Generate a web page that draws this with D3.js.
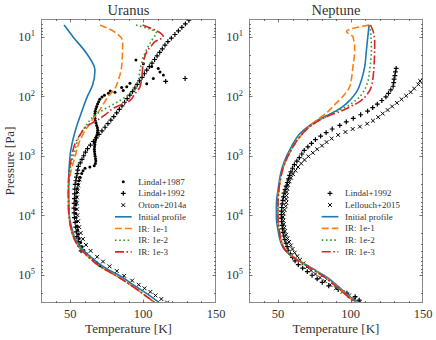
<!DOCTYPE html>
<html><head><meta charset="utf-8">
<script src="https://cdn.jsdelivr.net/npm/d3@7"></script>
<style>
body{margin:0;background:#fff}
svg{display:block}
text{font-family:"Liberation Serif","DejaVu Serif",serif;fill:#333}
</style>
</head><body>
<svg id="c" width="436" height="340"></svg>
<script>
// ---------------- DATA (temperature in K, log10 of pressure in Pa) ----------------
const xTicks = [50, 100, 150];
const yTickExps = [1, 2, 3, 4, 5];
const panelTitles = ["Uranus", "Neptune"];
const modelLabels = ["Initial profile", "IR: 1e-1", "IR: 1e-2", "IR: 1e-3"];

// Uranus models
const uraInitLogP = [0.80,1.0,1.28,1.56,1.81,2.0,2.26,2.5,2.75,3.0,3.5,4.0,4.25,4.4,4.5,4.6,4.7,4.81,4.9,5.04,5.15,5.26,5.37,5.48];
const uraInitT    = [45.8,52,61.3,67,65.4,61.8,57.9,54.5,51.7,49.9,48.9,49.4,51.5,53.5,56,59.5,64,69.5,75,85.5,92,99,105.5,111.6];
const uraIR1LogP = [0.80,0.94,1.08,1.3,1.5,1.73,1.87,2.0,2.22,2.45,2.74,3.02,3.33,3.58,3.83,4.0,4.25,4.4,4.5,4.6,4.7,4.81,4.9,5.04,5.15,5.26,5.37,5.48];
const uraIR1T    = [70.5,81.9,86,85.8,85.3,83,80.7,76.2,70.5,63.6,56.7,53.3,49.9,48.9,48.9,49.2,50.8,52.8,55,58.3,62.5,67.5,73,83,90,96.5,102.5,108.5];
const uraIR2LogP = [0.80,0.94,1.0,1.11,1.34,1.56,1.75,1.90,2.0,2.07,2.17,2.26,2.35,2.49,2.65,2.91,3.25,3.58,3.83,4.0,4.25,4.4,4.5,4.6,4.7,4.81,4.9,5.04,5.15,5.26,5.37,5.48];
const uraIR2T    = [95.1,109.3,107.5,104.7,100.2,97.9,96.5,93.3,88.5,84.2,77,70.5,65.5,61,56.7,53.3,49.9,48.9,48.9,49.2,50.8,52.8,55,58.3,62.5,67.5,73,83,90,96.5,102.5,108.5];
const uraIR3LogP = [0.80,1.0,1.08,1.14,1.25,1.39,1.67,1.84,1.97,2.07,2.2,2.3,2.37,2.45,2.51,2.62,2.8,3.02,3.3,3.58,3.83,4.0,4.25,4.4,4.5,4.6,4.7,4.81,4.9,5.04,5.15,5.26,5.37,5.48];
const uraIR3T    = [99.7,113.9,108.2,106,102.5,100.5,99.1,97.9,94,91,79.6,74.5,70.5,65,61,57.5,53.3,51,49.2,48.7,48.7,49.2,50.8,52.8,55,58.3,62.5,67.5,73,83,90,96.5,102.5,108.5];

// Uranus observations
const ura87LogP = [1.39,1.45,1.50,1.53,1.59,1.64,1.70,1.79,1.78,1.84,1.85,1.90,1.93,1.91,
  1.95,1.98,2.01,2.05,2.09,2.13,2.17,2.21,2.25,2.29,2.33,2.37,2.41,2.45,2.49,2.53,2.57,2.61,2.65,2.69,2.73,2.77,2.81,2.85,2.89,2.93,2.97,3.01,3.05,3.09,
  3.13,3.17,3.19,3.21,3.25,3.30,3.36,3.42,3.48,3.55,3.62,3.69,3.76,3.83,3.90,3.97,4.04,4.11,4.18,4.25,4.32,4.39,4.46,4.53,4.59,4.65,4.70,4.75,4.80,4.85];
const ura87T = [95.1,100.2,105.9,110.4,111.6,113.9,107,102.5,91,88.8,85.3,86.4,80.7,77.5,
  76.2,73.5,71.8,70.3,69.5,68.8,68.2,67.6,67.2,67.0,66.9,67.0,67.2,67.7,68.2,68.7,68.9,68.7,68.3,67.8,67.4,67.1,66.9,66.7,66.6,66.7,66.9,67.1,67.4,67.6,
  67.3,66.5,63.5,60.2,58.8,57.9,56.8,56.0,55.5,55.0,54.6,54.4,54.1,53.9,53.8,53.9,54.1,54.4,54.8,55.2,55.6,56.2,57.2,58.2,59.3,61.2,63.2,65.8,68.2,70.5];
const ura92LogP = [0.72,0.78,0.84,0.90,0.96,1.02,1.08,1.14,1.20,1.26,1.32,1.38,1.44,1.50,1.56,1.62,1.68,1.74,1.80,1.86,1.92,1.98,2.04,2.10,
  2.16,2.22,2.28,2.34,2.40,2.46,2.52,2.58,2.64,2.70,2.76,2.82,2.88,2.94,3.00,3.06,3.12,3.18,3.24,3.30,3.36,3.42,3.48,
  3.56,3.64,3.72,3.80,3.88,3.96,4.04,4.12,4.20,4.28,4.36,4.44,4.52,4.60,1.70,1.75];
const ura92T = [131.4,129.0,126.6,124.2,121.8,119.4,117.0,115.0,113.2,111.4,109.6,107.9,106.1,104.3,102.5,100.9,99.3,97.6,96.0,94.4,92.7,90.9,89.1,87.3,
  85.5,83.7,81.9,79.9,77.9,75.9,73.9,71.8,69.8,67.9,65.9,63.9,61.9,60.5,59.3,58.1,56.9,55.6,55.2,54.8,54.3,53.9,53.4,
  53.2,53.0,52.9,52.7,52.6,52.7,52.9,53.4,53.8,54.2,54.6,55.5,56.5,57.5,128.8,115.5];
const uraOrtonLogP = [3.40,3.50,3.60,3.70,3.80,3.90,4.00,4.10,4.20,4.30,4.40,4.50,4.60,4.70,4.78,4.86,4.94,5.02,5.10,5.17,5.23,5.29,5.35,5.41,5.47];
const uraOrtonT    = [56.5,55.5,55.0,54.7,54.6,54.7,55.0,55.5,56.2,57.2,58.7,60.8,64.0,68.5,72.5,77.0,82.0,87.0,92.5,97.0,101.0,105.0,108.5,112.5,116.5];

// Neptune models
const nepInitLogP = [0.80,1.22,1.50,1.73,1.93,2.07,2.19,2.30,2.38,2.49,2.63,2.85,3.08,3.25,3.58,3.80,4.03,4.25,4.54,4.70,4.87,5.04,5.27,5.49];
const nepInitT    = [112.8,111,109.8,107.5,104.1,99.4,93.7,85.7,78.8,71.9,65,59.2,54.6,52.3,50,48.9,48.9,50,53.4,60.3,71.9,83.4,94.8,105.2];
const nepIR1LogP = [0.80,0.91,1.0,1.22,1.50,1.84,2.0,2.11,2.28,2.45,2.62,2.85,3.08,3.3,3.58,3.80,4.03,4.25,4.54,4.70,4.87,5.04,5.27,5.49];
const nepIR1T    = [112.8,97.2,101.7,102.9,101.7,99.4,94.8,90.3,83.4,74.1,67.2,60.3,55.3,52.5,50.5,49.8,49.8,50.8,54,60.5,71.5,82.5,94,104.5];
const nepIR2LogP = [0.80,0.94,1.22,1.50,1.78,1.95,2.07,2.18,2.24,2.32,2.40,2.51,2.68,2.90,3.13,3.35,3.58,3.80,4.03,4.25,4.54,4.70,4.87,5.04,5.27,5.49];
const nepIR2T    = [112.8,114,114.4,113.5,111.6,108.2,103.6,96.7,91.5,85,78.5,71.9,65,59.2,54.6,52,50.6,50,50,50.8,53.8,60,71,82,93.5,104];
const nepIR3LogP = [0.80,0.94,1.11,1.50,1.84,1.98,2.09,2.18,2.26,2.32,2.40,2.51,2.68,2.90,3.13,3.35,3.58,3.80,4.03,4.25,4.54,4.70,4.87,5.04,5.27,5.49];
const nepIR3T    = [113.7,116,116.7,116.2,114.4,111,106.3,99.4,92.5,85.7,78.8,71.9,65,59.2,54.6,52,50.6,50,50,50.8,53.8,60,71,82,93.5,104];

// Neptune observations
const nep92LogP = [1.53,1.59,1.65,1.71,1.77,1.83,1.89,1.95,2.01,2.07,2.13,2.19,2.25,2.31,2.37,2.43,2.49,2.55,2.61,2.67,2.73,2.79,2.85,2.91,
  2.97,3.03,3.09,3.15,3.21,3.27,3.33,3.39,3.45,3.51,3.57,3.63,3.69,3.75,3.81,3.87,3.93,3.99,4.05,4.11,4.17,4.23,4.29,4.35,
  4.41,4.47,4.53,4.59,4.65,4.71,4.77,4.83,4.89,4.95,5.01,5.07,5.13,5.19,5.25,5.31,5.37,5.43];
const nep92T = [131.5,131.0,130.6,130.1,129.8,129.4,127.8,126.2,124.4,121.6,118.5,115.3,111.8,107.0,101.9,97.1,92.6,87.4,83.2,79.4,75.8,73.1,70.6,68.1,
  66.4,64.7,63.0,61.3,60.0,58.9,58.0,57.2,56.4,55.6,54.9,54.2,53.7,53.3,52.9,52.6,52.4,52.3,52.3,52.5,52.8,53.1,53.4,54.0,
  54.7,55.5,56.3,57.0,58.5,60.0,61.8,64.0,67.0,70.2,73.5,77.0,80.5,85.0,91.5,97.5,103.2,106.0];
const nepLelLogP = [1.68,1.74,1.80,1.87,1.93,1.99,2.05,2.11,2.17,2.23,2.29,2.35,2.41,2.46,2.51,2.55,2.60,2.65,2.71,2.77,2.83,2.89,2.95,3.01,
  3.07,3.13,3.19,3.25,3.31,3.37,3.43,3.49,3.55,3.61,3.67,3.73,3.79,3.85,3.91,3.97,4.03,4.09,4.15,4.21,4.27,4.33,4.39,4.45,
  4.51,4.57,4.63,4.69,4.75,4.81,4.87,4.93,4.99,5.05,5.11,5.17,5.23,5.29,5.35,5.41,5.47];
const nepLelT = [151.5,148.0,146.8,143.9,141.5,138.4,135.2,132.0,128.7,125.6,122.2,119.1,115.5,111.5,106.5,101.5,96.5,91.5,87.0,83.5,80.3,77.0,74.0,71.0,
  68.3,66.0,63.8,62.0,60.4,59.0,57.9,57.0,56.4,56.0,55.8,55.7,55.7,55.3,54.5,53.9,53.5,53.7,54.0,54.4,54.8,55.6,56.5,57.6,
  58.8,60.0,61.5,63.3,65.2,67.5,70.0,72.8,75.8,79.0,82.3,86.0,90.0,94.5,99.0,102.8,106.0];

// ---------------- DRAWING ----------------
const svg = d3.select("#c");
const modelColors = ["#1f77b4", "#ff7f0e", "#2ca02c", "#d62728"];
const modelDash = [null, "7,3", "1.6,2.6", "9,2.5,1.6,2.5"];
const TOP = 19, BOTTOM = 303;
const y = d3.scaleLog().domain([5, 3e5]).range([TOP, BOTTOM]);

const pts = (logP, T) => d3.range(Math.min(logP.length, T.length)).map(i => ({T: T[i], P: Math.pow(10, logP[i])}));

const markerPaths = {
  plus: "M-2.4,0H2.4M0,-2.4V2.4",
  cross: "M-1.9,-1.9L1.9,1.9M-1.9,1.9L1.9,-1.9"
};
function drawMarker(g, type, cx, cy) {
  if (type === "dot") {
    g.append("circle").attr("cx", cx).attr("cy", cy).attr("r", 1.5).attr("fill", "#000");
  } else {
    g.append("path").attr("d", markerPaths[type]).attr("transform", `translate(${cx},${cy})`)
      .attr("fill", "none").attr("stroke", "#000").attr("stroke-width", type === "plus" ? 1.2 : 1.0);
  }
}

function panel(cfg, idx) {
  const x = d3.scaleLinear().domain([30, 150]).range([cfg.x0, cfg.x1]);
  const g = svg.append("g");
  const clipId = "clip" + idx;
  svg.append("clipPath").attr("id", clipId).append("rect")
    .attr("x", cfg.x0).attr("y", TOP).attr("width", cfg.x1 - cfg.x0).attr("height", BOTTOM - TOP);

  const og = g.append("g").attr("clip-path", `url(#${clipId})`);
  cfg.obs.forEach(o => {
    o.data.forEach(d => drawMarker(og, o.type, x(d.T), y(d.P)));
  });

  const lg = g.append("g").attr("clip-path", `url(#${clipId})`);
  const line = d3.line().x(d => x(d.T)).y(d => y(d.P)).curve(d3.curveMonotoneY);
  cfg.models.forEach((m, i) => {
    lg.append("path").attr("d", line(m)).attr("fill", "none")
      .attr("stroke", modelColors[i]).attr("stroke-width", 1.6)
      .attr("stroke-dasharray", modelDash[i]);
  });

  g.append("rect").attr("x", cfg.x0 + 0.5).attr("y", TOP + 0.5)
    .attr("width", cfg.x1 - cfg.x0 - 1).attr("height", BOTTOM - TOP - 1)
    .attr("fill", "none").attr("stroke", "#8a8a8a").attr("stroke-width", 1);

  const tg = g.append("g").attr("stroke", "#555").attr("stroke-width", 0.8);
  const xMinor = d3.range(40, 150, 10).filter(v => !xTicks.includes(v));
  xTicks.concat(xMinor).forEach(v => {
    const len = xTicks.includes(v) ? 3.5 : 2;
    const px = Math.round(x(v)) + 0.5;
    if (v < 150) {
      tg.append("line").attr("x1", px).attr("x2", px).attr("y1", BOTTOM).attr("y2", BOTTOM - len);
      tg.append("line").attr("x1", px).attr("x2", px).attr("y1", TOP).attr("y2", TOP + len);
    }
  });
  const yMajor = yTickExps.map(e => Math.pow(10, e));
  const yMinor = [];
  for (let k = 0; k <= 5; k++) for (let m = 2; m <= 9; m++) {
    const v = m * Math.pow(10, k);
    if (v > 5 && v < 3e5) yMinor.push(v);
  }
  yMajor.concat(yMinor).forEach(v => {
    const len = yMajor.includes(v) ? 3.5 : 2;
    const py = Math.round(y(v)) + 0.5;
    tg.append("line").attr("x1", cfg.x0).attr("x2", cfg.x0 + len).attr("y1", py).attr("y2", py);
    tg.append("line").attr("x1", cfg.x1).attr("x2", cfg.x1 - len).attr("y1", py).attr("y2", py);
  });

  xTicks.forEach(v => {
    g.append("text").attr("x", x(v)).attr("y", 317.5).attr("text-anchor", "middle")
      .attr("font-size", 12.5).text(v);
  });
  yTickExps.forEach(e => {
    const t = g.append("text").attr("x", cfg.x0 - 6).attr("y", y(Math.pow(10, e)) + 4.5)
      .attr("text-anchor", "end").attr("font-size", 12.5);
    t.append("tspan").text("10");
    t.append("tspan").attr("dy", -5).attr("font-size", 8.5).text(e);
  });

  g.append("text").attr("x", (cfg.x0 + cfg.x1) / 2).attr("y", 14.5).attr("text-anchor", "middle")
    .attr("font-size", 14.5).text(cfg.title);
  g.append("text").attr("x", (cfg.x0 + cfg.x1) / 2).attr("y", 333).attr("text-anchor", "middle")
    .attr("font-size", 13).text("Temperature [K]");

  const leg = g.append("g");
  let row = 0;
  cfg.obs.forEach(o => {
    const cy = cfg.legY + row * 11.7;
    drawMarker(leg, o.type, cfg.legX + 8.3, cy);
    leg.append("text").attr("x", cfg.legX + 23.3).attr("y", cy + 3).attr("font-size", 9).text(o.label);
    row++;
  });
  modelLabels.forEach((lab, i) => {
    const cy = cfg.legY + row * 11.7;
    leg.append("line").attr("x1", cfg.legX).attr("x2", cfg.legX + 16.7).attr("y1", cy).attr("y2", cy)
      .attr("stroke", modelColors[i]).attr("stroke-width", 1.6).attr("stroke-dasharray", modelDash[i]);
    leg.append("text").attr("x", cfg.legX + 23.3).attr("y", cy + 3).attr("font-size", 9).text(lab);
    row++;
  });
}

panel({
  x0: 41, x1: 216, title: panelTitles[0], legX: 115, legY: 181.7,
  models: [pts(uraInitLogP, uraInitT), pts(uraIR1LogP, uraIR1T), pts(uraIR2LogP, uraIR2T), pts(uraIR3LogP, uraIR3T)],
  obs: [
    {type: "dot", label: "Lindal+1987", data: pts(ura87LogP, ura87T)},
    {type: "plus", label: "Lindal+1992", data: pts(ura92LogP, ura92T)},
    {type: "cross", label: "Orton+2014a", data: pts(uraOrtonLogP, uraOrtonT)}
  ]
}, 0);

panel({
  x0: 249, x1: 423, title: panelTitles[1], legX: 321.7, legY: 193.3,
  models: [pts(nepInitLogP, nepInitT), pts(nepIR1LogP, nepIR1T), pts(nepIR2LogP, nepIR2T), pts(nepIR3LogP, nepIR3T)],
  obs: [
    {type: "plus", label: "Lindal+1992", data: pts(nep92LogP, nep92T)},
    {type: "cross", label: "Lellouch+2015", data: pts(nepLelLogP, nepLelT)}
  ]
}, 1);

svg.append("text").attr("transform", "translate(14,161) rotate(-90)").attr("text-anchor", "middle")
  .attr("font-size", 13).text("Pressure [Pa]");
</script>
</body></html>
